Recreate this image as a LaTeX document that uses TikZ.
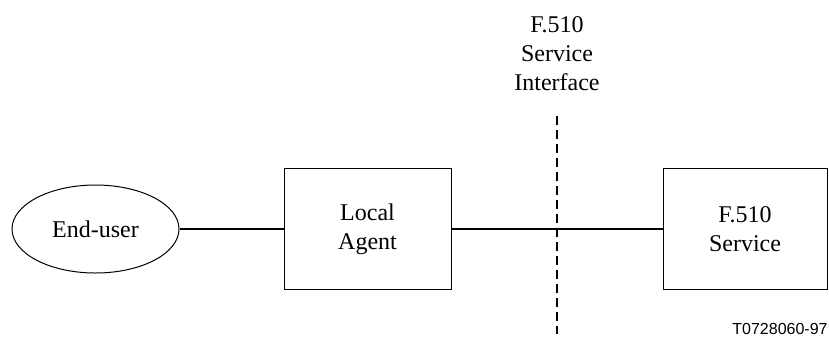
\documentclass[tikz,border=0pt]{standalone}
\usepackage{fontspec}
\setmainfont{Liberation Serif}
\newfontfamily\tagfont{Liberation Sans}
\usetikzlibrary{shapes.geometric}

\tikzset{
	unit/.style={draw, line width=.5pt, minimum width=83.5pt, minimum height=60.5pt, align=center, inner sep=0pt},
	link/.style={line width=.8pt}
}

\begin{document}
\begin{tikzpicture}[x=.5pt,y=-.5pt, font=\fontsize{12pt}{14.5pt}\selectfont]
			\useasboundingbox (0,0) rectangle (829,345);
			
			\node [draw, ellipse, line width=.5pt, minimum width=83.5pt, minimum height=44pt, inner sep=0pt] (user) at (95.5,229){End-user};
			
			\node [unit] (agent) at (367.5,229){Local\\Agent};
			\node [unit, minimum width=82pt] (service) at (745,229){F.510\\Service};
			
			\draw [link] (user) to (agent);
			\draw [link] (agent) to (service);
			
			\node [align=center] (iface) at (557,54){F.510\\Service\\Interface};
			\coordinate (ifacetop) at (557,116);
			\coordinate (ifacebot) at (557,334);
			\draw [line width=1pt, dash pattern=on 4.5pt off 2.5pt] (ifacetop) to (ifacebot);
			
			\node [anchor=east, inner sep=0pt, font=\tagfont\fontsize{8pt}{9pt}\selectfont] (tag) at (828,329){T0728060-97};
\end{tikzpicture}
\end{document}
